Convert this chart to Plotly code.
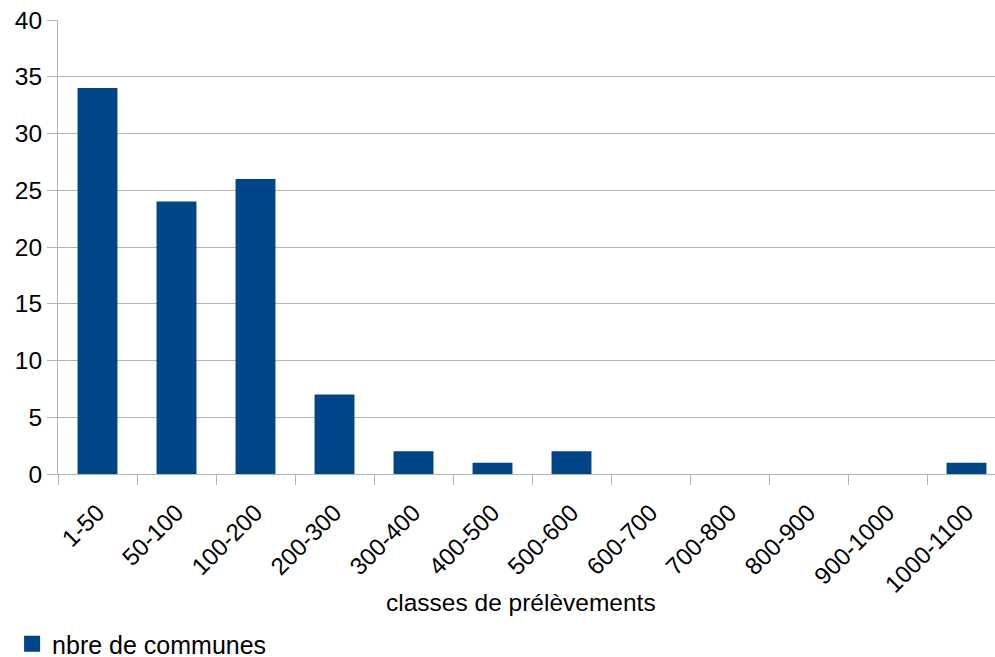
import plotly.graph_objects as go

categories = ["1-50", "50-100", "100-200", "200-300", "300-400", "400-500",
              "500-600", "600-700", "700-800", "800-900", "900-1000", "1000-1100"]
values = [34, 24, 26, 7, 2, 1, 2, 0, 0, 0, 0, 1]
series_name = "nbre de communes"
x_title = "classes de prélèvements"
y_ticks = [0, 5, 10, 15, 20, 25, 30, 35, 40]

W, H = 995, 657
L, R, T, B = 58, 0, 20, 183
grid = "#b3b3b3"
bar_color = "#004586"
font = "Liberation Sans, Arial, sans-serif"

fig = go.Figure()
fig.add_trace(go.Bar(x=categories, y=values, name=series_name,
                     marker=dict(color=bar_color, line=dict(width=0)),
                     width=0.505, showlegend=False, legendgroup="s"))
# legend entry with a larger square swatch (legend only, no data)
fig.add_trace(go.Scatter(x=[None], y=[None], mode="markers", name=series_name,
                         marker=dict(symbol="square", size=16, color=bar_color),
                         legendgroup="s", showlegend=True, hoverinfo="skip"))

# full plot would extend to ~1004px; window cuts it at 995
cat_px = 79.0
plot_w = W - L - R
plot_h = H - T - B
span = plot_w / cat_px

fig.update_layout(
    width=W, height=H,
    margin=dict(l=L, r=R, t=T, b=B, autoexpand=False),
    paper_bgcolor="white", plot_bgcolor="white",
    font=dict(family=font, size=24, color="black"),
    showlegend=True,
    legend=dict(orientation="h", x=-0.049, xanchor="left",
                y=(474 - 644) / plot_h, yanchor="middle",
                font=dict(size=25), itemwidth=30, bgcolor="rgba(0,0,0,0)",
                tracegroupgap=0),
    xaxis=dict(type="category", range=[-0.5, -0.5 + span],
               tickson="boundaries", ticks="outside", ticklen=10, tickcolor=grid,
               tickwidth=1, showline=True, linecolor=grid, linewidth=1,
               showgrid=False, tickangle=-45, tickfont=dict(size=24),
               ticklabelstandoff=14),
    yaxis=dict(range=[0, 40], tickvals=y_ticks, ticks="outside", ticklen=10,
               tickcolor=grid, showline=True, linecolor=grid, linewidth=1,
               showgrid=True, gridcolor=grid, gridwidth=1, zeroline=False,
               tickfont=dict(size=24.5)),
    annotations=[dict(text=x_title, xref="paper", yref="paper",
                      x=(521 - L) / plot_w, y=(474 - 602) / plot_h,
                      xanchor="center", yanchor="middle", showarrow=False,
                      font=dict(size=24.5))],
)

fig.write_html("out.html", config={"displayModeBar": False},
               post_script="document.body.style.margin='0';document.body.style.overflow='hidden';")
